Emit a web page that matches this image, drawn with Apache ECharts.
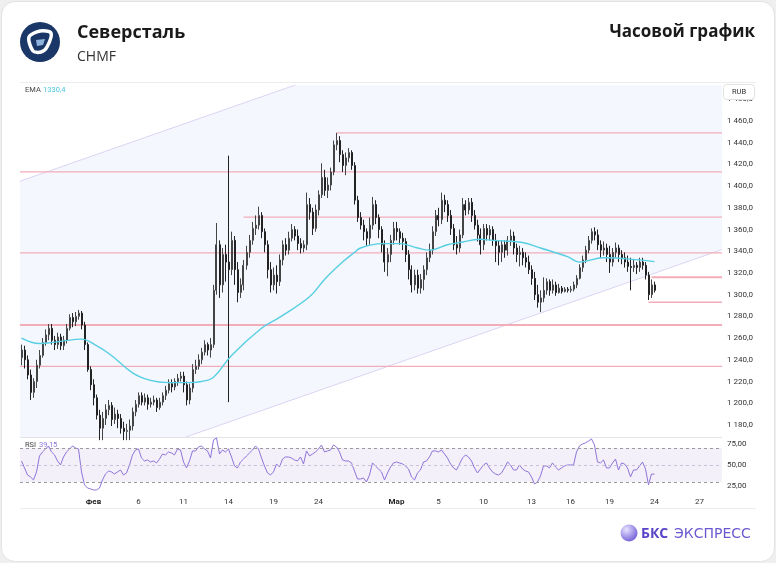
<!DOCTYPE html>
<html>
<head>
<meta charset="utf-8">
<script src="https://cdn.jsdelivr.net/npm/echarts@6/dist/echarts.min.js"></script>
<style>
  html, body { margin: 0; padding: 0; background: #efefef; }
  #card { position: absolute; left: 1px; top: 1px; width: 772px; height: 559px; background: #fff; border: 1px solid #e3e3e3; border-radius: 14px; }
  #main { position: absolute; left: 0; top: 0; width: 776px; height: 563px; }
</style>
</head>
<body>
<div id="card"></div>
<div id="main"></div>
<script>
// часовые свечи Северсталь (CHMF)
const opens = [
  1242,1249,1240,1226,1210,1220,1235,1244,1256,1263, 1269,1258,1254,1261,1253,1258,1269,1279,1275,1280,
  1283,1272,1254,1231,1217,1205,1189,1177,1186,1194, 1198,1185,1190,1186,1177,1174,1175,1179,1192,1199,
  1207,1201,1205,1199,1201,1203,1196,1201,1207,1212, 1218,1215,1220,1223,1225,1217,1203,1214,1231,1234,
  1240,1247,1254,1249,1254,1304,1346,1309,1337,1330, 1323,1350,1323,1302,1309,1327,1339,1350,1361,1364,
  1373,1358,1346,1323,1309,1318,1312,1332,1346,1341, 1352,1360,1354,1347,1343,1346,1383,1376,1361,1378,
  1392,1408,1396,1401,1413,1438,1442,1429,1419,1426, 1431,1419,1387,1371,1364,1358,1352,1364,1383,1371,
  1360,1346,1330,1337,1350,1361,1358,1352,1349,1337, 1323,1309,1318,1306,1314,1323,1334,1341,1358,1373,
  1369,1387,1383,1373,1361,1346,1343,1355,1383,1378, 1385,1373,1364,1355,1346,1361,1355,1360,1350,1345,
  1339,1346,1341,1350,1354,1343,1337,1339,1334,1330, 1323,1315,1300,1293,1297,1304,1312,1304,1309,1302,
  1306,1303,1305,1304,1305,1309,1315,1325,1332,1341, 1350,1358,1355,1346,1341,1343,1337,1330,1339,1343,
  1337,1334,1330,1326,1325,1327,1325,1330,1327,1318, 1300,1309
];
const closes = [
  1249,1240,1226,1210,1220,1235,1244,1256,1263,1269, 1258,1254,1261,1253,1258,1269,1279,1275,1280,1283,
  1272,1254,1231,1217,1205,1189,1177,1186,1194,1198, 1185,1190,1186,1177,1174,1175,1179,1192,1199,1207,
  1201,1205,1199,1201,1203,1196,1201,1207,1212,1218, 1215,1220,1223,1225,1217,1203,1214,1231,1234,1240,
  1247,1254,1249,1254,1304,1346,1309,1337,1330,1323, 1350,1323,1302,1309,1327,1339,1350,1361,1364,1373,
  1358,1346,1323,1309,1318,1312,1332,1346,1341,1352, 1360,1354,1347,1343,1346,1383,1376,1361,1378,1392,
  1408,1396,1401,1413,1438,1442,1429,1419,1426,1431, 1419,1387,1371,1364,1358,1352,1364,1383,1371,1360,
  1346,1330,1337,1350,1361,1358,1352,1349,1337,1323, 1309,1318,1306,1314,1323,1334,1341,1358,1373,1369,
  1387,1383,1373,1361,1346,1343,1355,1383,1378,1385, 1373,1364,1355,1346,1361,1355,1360,1350,1345,1339,
  1346,1341,1350,1354,1343,1337,1339,1334,1330,1323, 1315,1300,1293,1297,1304,1312,1304,1309,1302,1306,
  1303,1305,1304,1305,1309,1315,1325,1332,1341,1350, 1358,1355,1346,1341,1343,1337,1330,1339,1343,1337,
  1334,1330,1326,1325,1327,1325,1330,1327,1318,1300, 1309,1304
];
const lows = [
  1235,1232,1222,1203,1205,1214,1232,1242,1253,1258, 1254,1249,1250,1249,1249,1255,1267,1270,1271,1277,
  1268,1249,1229,1212,1198,1185,1166,1166,1180,1189, 1179,1181,1177,1172,1166,1166,1166,1175,1188,1196,
  1198,1198,1194,1196,1198,1192,1194,1198,1203,1209, 1210,1212,1216,1220,1210,1198,1199,1210,1227,1231,
  1236,1244,1244,1242,1251,1300,1297,1302,1312,1201, 1318,1309,1293,1297,1304,1323,1334,1346,1355,1360,
  1352,1339,1315,1302,1304,1301,1308,1327,1336,1337, 1349,1350,1341,1338,1339,1341,1369,1355,1358,1373,
  1389,1391,1389,1396,1410,1433,1422,1413,1410,1422, 1415,1383,1367,1360,1350,1345,1346,1360,1365,1352,
  1339,1321,1317,1330,1346,1350,1346,1341,1330,1314, 1302,1304,1301,1301,1304,1318,1330,1337,1354,1363,
  1365,1376,1367,1355,1341,1337,1339,1352,1373,1374, 1367,1360,1349,1337,1341,1350,1350,1345,1330,1327,
  1330,1334,1336,1345,1337,1330,1326,1327,1325,1319, 1309,1295,1288,1284,1293,1300,1299,1301,1299,1301,
  1301,1302,1302,1302,1303,1306,1314,1321,1329,1338, 1347,1350,1341,1334,1336,1330,1320,1326,1334,1330,
  1328,1325,1321,1304,1321,1319,1321,1323,1314,1295, 1297,1302
];
const highs = [
  1254,1253,1244,1231,1223,1240,1249,1260,1268,1273, 1273,1262,1265,1264,1262,1273,1282,1283,1284,1286,
  1285,1275,1256,1234,1222,1208,1194,1192,1199,1203, 1201,1196,1194,1190,1183,1181,1185,1196,1203,1210,
  1210,1209,1208,1205,1207,1205,1205,1210,1216,1222, 1222,1223,1227,1229,1229,1220,1218,1236,1240,1245,
  1251,1258,1256,1260,1309,1366,1350,1343,1346,1428, 1358,1354,1330,1315,1332,1345,1355,1367,1373,1381,
  1376,1361,1350,1330,1325,1327,1337,1350,1352,1358, 1365,1363,1360,1352,1350,1394,1389,1380,1383,1396,
  1421,1415,1408,1417,1442,1449,1446,1433,1431,1435, 1433,1422,1391,1376,1369,1361,1371,1390,1387,1374,
  1363,1350,1343,1355,1367,1367,1361,1357,1352,1341, 1327,1323,1323,1319,1327,1339,1347,1363,1378,1380,
  1394,1392,1387,1378,1365,1354,1360,1389,1387,1389, 1389,1378,1369,1361,1365,1365,1364,1363,1356,1350,
  1350,1350,1354,1360,1358,1347,1345,1343,1339,1336, 1327,1321,1309,1304,1316,1315,1314,1314,1312,1310,
  1308,1307,1307,1308,1312,1318,1328,1336,1345,1354, 1361,1362,1360,1350,1349,1347,1345,1343,1348,1346,
  1341,1339,1336,1334,1332,1330,1334,1334,1330,1321, 1314,1312
];

// EMA (опорные точки: номер свечи -> значение)
const emaIdx = [0, 6, 13, 20, 25, 30, 37, 43, 49, 56, 60, 64, 70, 80, 86, 96, 101, 107, 111, 113,
  120, 126, 132, 136, 142, 146, 153, 157, 167, 173, 182, 186, 194, 206, 211];
const emaVal = [1260, 1255, 1257, 1259, 1253, 1244, 1228, 1221, 1219, 1219, 1220, 1224, 1244, 1269, 1279, 1298, 1314, 1330, 1339, 1343,
  1347, 1347, 1343, 1341, 1346, 1348, 1351, 1350, 1348, 1343, 1335, 1330, 1334, 1332, 1330.4];

// RSI по свечам
const rsi = [
  54.7,46.5,38.2,35.9,32.4,41.8,60.6,65.3,68.8,72.4, 65.3,61.8,54.7,50,59.4,65.3,68.8,72.4,70,68.8,
  41.8,26.5,22.9,21.8,20.6,20.6,22.9,32.4,39.4,42.9, 41.8,39.4,41.8,44.1,38.2,40.6,50,61.8,67.6,68.8,
  58.2,54.7,55.9,53.5,54.7,52.4,57,62.9,61.8,65.3, 64.1,61.8,68.8,67.6,53.5,46.5,54.7,66.5,66.5,71.2,
  72.4,68.8,66.5,58.2,79.4,81.8,62.9,67.6,65.3,68.8, 59.4,48.8,46.5,53.5,57,60.6,64.1,67.6,72.4,68.8,
  58.2,48.8,40.6,38.2,41.8,51.2,47.6,57,59.4,59.4, 58.2,55.9,54.7,59.4,51.2,66.5,60.6,62.9,65.3,68.8,
  73.5,65.3,66.5,67.6,73.5,71.2,65.3,55.9,54.7,54.7, 52.4,42.9,33.5,33.5,34.7,30,38.2,52.4,48.8,45.3,
  41.8,32.4,40.6,47.6,52.4,53.5,52.4,51.2,48.8,45.3, 35.9,32.4,40.6,44.1,53.5,54.7,59.4,66.5,66.5,65.3,
  67.6,62.9,58.2,51.2,46.5,44.1,51.2,58.2,61.8,59.4, 54.7,46.5,40.6,45.3,50,52.4,46.5,41.8,39.4,38.2,
  40.6,46.5,53.5,50,44.1,44.1,50,45.3,42.9,41.8, 35.9,27.6,30,37.1,48.8,48.8,46.5,52.4,47.6,44.1,
  46.5,48.8,50,50,50,65.3,72.4,74.7,75.9,78.2, 80.6,73.5,53.5,52.4,55.9,46.5,46.5,52.4,57,44.1,
  52.4,51.2,46.5,35.9,44.1,44.1,48.8,53.5,45.3,26.5, 39.4,39.15
];

// канал (номер свечи, цена на концах)
const channelIdx = [-1, 234];
const channelUpper = [1404, 1631];
const channelLower = [1115, 1342];

// горизонтальные уровни и свеча, с которой они начинаются
const levelValue = [1449, 1413, 1371.5, 1338.5, 1272, 1234, 1316, 1293];
const levelStart = [105, -1, 74, -1, -1, -1, 210, 209];

// подписи шкал
const slotCount = 234;
const tickIdx = [24, 39, 54, 69, 84, 99, 125, 139, 154, 170, 183, 196, 211, 226];
const tickText = ['Фев', '6', '11', '14', '19', '24', 'Мар', '5', '10', '13', '16', '19', '24', '27'];
const priceTicks = [1180, 1200, 1220, 1240, 1260, 1280, 1300, 1320, 1340, 1360, 1380, 1400, 1420, 1440, 1460, 1480];
const rsiTicks = [25, 50, 75];

const levelWidth = [1.3, 1.3, 1.3, 1.3, 2, 1.3, 2, 1.3];

const cats = Array.from({ length: slotCount }, (_, i) => String(i));
const candles = opens.map((o, i) => [o, closes[i], lows[i], highs[i]]);
const emaData = emaIdx.map((x, i) => [x, emaVal[i]]);

function fmtPrice(v) {
  const th = Math.floor(v / 1000);
  const rest = String(Math.round(v % 1000)).padStart(3, '0');
  return th + ' ' + rest + ',0';
}

const chart = echarts.init(document.getElementById('main'));
const font = 'Roboto, "DejaVu Sans", sans-serif';

const option = {
  animation: false,
  textStyle: { fontFamily: font },
  grid: [
    { left: 20, right: 54, top: 85, height: 352 },
    { left: 20, right: 54, top: 437, height: 55 }
  ],
  xAxis: [
    {
      type: 'category', gridIndex: 0, data: cats,
      axisLine: { show: false }, axisTick: { show: false }, axisLabel: { show: false }, splitLine: { show: false }
    },
    {
      type: 'category', gridIndex: 1, data: cats,
      axisLine: { show: false }, axisTick: { show: false }, splitLine: { show: false },
      axisLabel: {
        interval: (index) => tickIdx.includes(index),
        margin: 6, fontSize: 8, color: '#333',
        formatter: (value) => {
          const k = tickIdx.indexOf(Number(value));
          if (k < 0) return '';
          const t = tickText[k];
          return (t === 'Фев' || t === 'Мар') ? '{b|' + t + '}' : t;
        },
        rich: { b: { fontWeight: 'bold', fontSize: 8, color: '#222' } }
      }
    }
  ],
  yAxis: [
    {
      type: 'value', gridIndex: 0, position: 'right', min: 1168.9, max: 1493.1,
      axisLine: { show: false }, axisTick: { show: false }, splitLine: { show: false },
      axisLabel: { customValues: priceTicks, formatter: fmtPrice, fontSize: 8, color: '#333', margin: 5 }
    },
    {
      type: 'value', gridIndex: 1, position: 'right', min: 18.2, max: 82.9,
      axisLine: { show: false }, axisTick: { show: false }, splitLine: { show: false },
      axisLabel: { customValues: rsiTicks, formatter: v => v.toFixed(2).replace('.', ','), fontSize: 8, color: '#333', margin: 5 }
    }
  ],
  series: [
    {
      // канал и уровни
      type: 'custom', xAxisIndex: 0, yAxisIndex: 0, silent: true, z: 1,
      data: [[0, 0]],
      renderItem: (params, api) => {
        const cs = params.coordSys;
        const u0 = api.coord([channelIdx[0], channelUpper[0]]);
        const u1 = api.coord([channelIdx[1], channelUpper[1]]);
        const l0 = api.coord([channelIdx[0], channelLower[0]]);
        const l1 = api.coord([channelIdx[1], channelLower[1]]);
        const children = [
          { type: 'polygon', shape: { points: [u0, u1, l1, l0] }, style: { fill: '#f4f7fe' } },
          { type: 'line', shape: { x1: u0[0], y1: u0[1], x2: u1[0], y2: u1[1] }, style: { stroke: '#dcd3f3', lineWidth: 1 } },
          { type: 'line', shape: { x1: l0[0], y1: l0[1], x2: l1[0], y2: l1[1] }, style: { stroke: '#dcd3f3', lineWidth: 1 } }
        ];
        levelValue.forEach((v, k) => {
          const p = api.coord([levelStart[k], v]);
          children.push({
            type: 'line',
            shape: { x1: p[0], y1: p[1], x2: cs.x + cs.width, y2: p[1] },
            style: { stroke: '#f3adb8', lineWidth: levelWidth[k] }
          });
        });
        return { type: 'group', children, clipPath: { type: 'rect', shape: { x: cs.x, y: cs.y, width: cs.width, height: cs.height } } };
      }
    },
    {
      name: 'CHMF', type: 'candlestick', xAxisIndex: 0, yAxisIndex: 0, z: 3,
      data: candles, barMaxWidth: 1.5, clip: true,
      itemStyle: { color: '#ffffff', color0: '#222222', borderColor: '#444444', borderColor0: '#222222', borderWidth: 1 }
    },
    {
      name: 'EMA', type: 'line', xAxisIndex: 0, yAxisIndex: 0, z: 4,
      data: emaData, smooth: 0.4, symbol: 'none',
      lineStyle: { color: '#57cfe3', width: 1.4 }
    },
    {
      name: 'RSI', type: 'line', xAxisIndex: 1, yAxisIndex: 1, z: 4,
      data: rsi, symbol: 'none',
      lineStyle: { color: '#8f74d8', width: 1 },
      markArea: {
        silent: true,
        itemStyle: { color: 'rgba(140,110,210,0.10)' },
        data: [[{ yAxis: 30 }, { yAxis: 70 }]]
      },
      markLine: {
        silent: true, symbol: 'none', label: { show: false },
        data: [
          { yAxis: 70, lineStyle: { color: '#9a9a9a', type: [3, 3], width: 1 } },
          { yAxis: 50, lineStyle: { color: '#c6c0d8', type: [3, 3], width: 1 } },
          { yAxis: 30, lineStyle: { color: '#9a9a9a', type: [3, 3], width: 1 } }
        ]
      }
    }
  ],
  graphic: [
    // рамки панели графика
    { type: 'line', shape: { x1: 20, y1: 82.5, x2: 756, y2: 82.5 }, style: { stroke: '#ececec', lineWidth: 1 }, silent: true },
    { type: 'line', shape: { x1: 20, y1: 437.5, x2: 722, y2: 437.5 }, style: { stroke: '#e4e4e8', lineWidth: 1 }, silent: true },
    { type: 'line', shape: { x1: 20, y1: 508.5, x2: 756, y2: 508.5 }, style: { stroke: '#ececec', lineWidth: 1 }, silent: true },
    // логотип
    { type: 'circle', shape: { cx: 40, cy: 42, r: 20 }, style: { fill: '#1b3768' } },
    { type: 'polygon', shape: { points: [[29, 37], [40, 31], [51, 33], [47, 47], [41, 52], [33, 51]], smooth: 0.3 }, style: { fill: 'none', stroke: '#ffffff', lineWidth: 3.5 } },
    { type: 'polygon', shape: { points: [[36, 40], [45, 39], [43, 45], [37, 46]] }, style: { fill: '#8fb2de' } },
    { type: 'text', x: 77, y: 33, style: { text: 'Северсталь', font: 'bold 18px "Open Sans", sans-serif', fill: '#1a1a1a', verticalAlign: 'middle' } },
    { type: 'text', x: 77, y: 57, style: { text: 'CHMF', font: '14px "Open Sans", sans-serif', fill: '#333', verticalAlign: 'middle' } },
    { type: 'text', x: 755, y: 32, style: { text: 'Часовой график', font: 'bold 17px "Open Sans", sans-serif', fill: '#1a1a1a', align: 'right', verticalAlign: 'middle' } },
    // подписи индикаторов
    { type: 'text', x: 25, y: 90, style: { text: 'EMA', font: '7.5px ' + font, fill: '#444', verticalAlign: 'middle' } },
    { type: 'text', x: 43, y: 90, style: { text: emaVal[emaVal.length - 1].toFixed(1).replace('.', ','), font: '7.5px ' + font, fill: '#4cc6e0', verticalAlign: 'middle' } },
    { type: 'text', x: 25, y: 445, style: { text: 'RSI', font: '7.5px ' + font, fill: '#444', verticalAlign: 'middle' } },
    { type: 'text', x: 39, y: 445, style: { text: rsi[rsi.length - 1].toFixed(2).replace('.', ','), font: '7.5px ' + font, fill: '#8f74d8', verticalAlign: 'middle' } },
    // RUB
    { type: 'rect', shape: { x: 723.5, y: 84.5, width: 31, height: 15, r: 3 }, style: { fill: '#fff', stroke: '#e2e2e2' }, z: 10 },
    { type: 'text', x: 739, y: 92, z: 11, style: { text: 'RUB', font: '7.5px ' + font, fill: '#333', align: 'center', verticalAlign: 'middle' } },
    // БКС Экспресс
    {
      type: 'circle', shape: { cx: 629, cy: 533, r: 8.5 },
      style: { fill: { type: 'radial', x: 0.35, y: 0.3, r: 0.8, colorStops: [{ offset: 0, color: '#e8e3ff' }, { offset: 1, color: '#6b55d6' }] } }
    },
    { type: 'text', x: 641, y: 534, style: { text: 'БКС', font: 'bold 14px "Open Sans", sans-serif', fill: '#5a45c8', verticalAlign: 'middle' } },
    { type: 'text', x: 674, y: 534, style: { text: 'ЭКСПРЕСС', font: '14px "DejaVu Sans", sans-serif', fill: '#6a58d0', verticalAlign: 'middle' } }
  ]
};

chart.setOption(option);
</script>
</body>
</html>
